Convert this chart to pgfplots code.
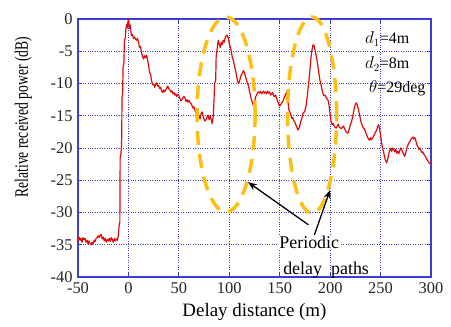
\documentclass[border=0pt]{standalone}
\usepackage{fontspec}
\setmainfont{Liberation Serif}
\usepackage{pgfplots}
\pgfplotsset{compat=1.18}
\usetikzlibrary{arrows.meta}
\definecolor{axblue}{RGB}{60,60,215}
\definecolor{lred}{RGB}{225,10,10}
\definecolor{ellor}{RGB}{255,190,20}
\newcommand{\tl}[1]{\textrm{\fontsize{16.5}{18}\selectfont #1}}
\begin{document}
\begin{tikzpicture}
\begin{axis}[
  name=ax,
  scale only axis, width=353bp, height=258bp,
  xmin=-50, xmax=300, ymin=-40, ymax=0,
  xtick={-50,0,50,100,150,200,250,300},
  xticklabels={\tl{-50},\tl{0},\tl{50},\tl{100},\tl{150},\tl{200},\tl{250},\tl{300}},
  ytick={-40,-35,-30,-25,-20,-15,-10,-5,0},
  yticklabels={\tl{-40},\tl{-35},\tl{-30},\tl{-25},\tl{-20},\tl{-15},\tl{-10},\tl{-5},\tl{0}},
  axis line style={axblue, line width=1.3pt},
  tick style={axblue, line width=1pt},
  major tick length=4bp,
  grid=major,
  grid style={axblue, dotted, line width=0.9pt},
  tick label style={text=black!85},
  xticklabel style={yshift=-2bp},
  yticklabel style={xshift=-2bp},
  xlabel={Delay distance (m)},
  ylabel={\scalebox{0.72}[1]{Relative received power (dB)}},
  every axis x label/.style={at={(axis description cs:0.5,-0.136)}, anchor=center, font=\fontsize{19}{21}\selectfont},
  every axis y label/.style={at={(axis description cs:-0.155,0.62)}, anchor=center, rotate=90, font=\fontsize{19}{21}\selectfont},
  clip=false,
]
\addplot[lred, line width=1.2pt, line join=round] coordinates {
(-50,-34.5) (-49,-33.8) (-48,-34.3) (-47,-34.0) (-46,-34.6) (-45,-33.9) (-44,-34.2) (-43,-34.0) (-42,-34.6) (-41,-34.3) (-40,-34.9) (-39,-34.4) (-38,-34.8) (-37,-35.0) (-36,-34.6) (-35,-34.9) (-34,-34.3) (-33,-34.5) (-32,-34.0) (-31,-33.9) (-30,-33.6) (-29,-33.9) (-28,-33.5) (-27,-33.4) (-26,-34.1) (-25,-33.8) (-24,-34.4) (-23,-34.0) (-22,-34.6) (-21,-34.2) (-20,-34.4) (-19,-34.0) (-18,-34.5) (-17,-33.9) (-16,-34.2) (-15,-34.6) (-14,-34.0) (-13,-34.4) (-12,-34.1) (-11,-34.3) (-10,-33.6) (-9.5,-32.5) (-9,-31.8) (-8.5,-31.5) (-8.2,-21.5) (-7.5,-21) (-7,-19.9) (-6.6,-18) (-6.4,-12.2) (-5.8,-11.8) (-5.3,-7.5) (-4.5,-6.8) (-4,-3.5) (-3,-2.8) (-2.5,-1.5) (-1.5,-0.8) (-1,-1.4) (-0.5,-0.4) (0,0) (0.5,-0.6) (1,-1.5) (1.5,-0.9) (2,-1.2) (3,-2.6) (4,-2.4) (5,-3.0) (6,-2.8) (7,-3.1) (8,-3.3) (9,-3.0) (10,-3.6) (11,-4.4) (12,-4.3) (13,-5.2) (14,-5.8) (15,-6.2) (16,-5.7) (17,-6.0) (18,-5.6) (19,-6.3) (20,-7.2) (21,-8.3) (22,-8.6) (23,-9.6) (24,-10.2) (25,-10.1) (26,-10.6) (27,-10.1) (28,-9.9) (29,-10.4) (30,-10.3) (31,-10.8) (32,-10.6) (33,-11.2) (34,-11.4) (35,-11.0) (36,-11.3) (37,-11.0) (38,-10.7) (39,-10.4) (40,-10.8) (41,-11.0) (42,-11.3) (43,-11.1) (44,-11.6) (45,-11.4) (46,-11.8) (47,-11.6) (48,-12.0) (49,-11.7) (50,-11.9) (51,-12.3) (52,-12.7) (53,-12.5) (54,-12.2) (55,-12.0) (56,-12.2) (57,-12.8) (58,-12.5) (59,-12.9) (60,-12.6) (61,-12.9) (62,-13.1) (63,-13.4) (64,-13.8) (65,-13.6) (66,-14.2) (67,-14.6) (68,-14.8) (69,-15.3) (70,-14.9) (71,-15.5) (72,-14.7) (73,-14.4) (74,-15.0) (75,-15.6) (76,-15.8) (77,-15.6) (78,-15.2) (79,-14.9) (80,-15.6) (81,-15.0) (82,-15.5) (83,-16.2) (84,-15.2) (84.5,-14.0) (85.5,-10.0) (86.5,-9.5) (87,-5.8) (88,-4.6) (89,-3.3) (90,-3.8) (91,-4.4) (92,-3.6) (93,-4.0) (94,-3.3) (95,-3.6) (96,-2.9) (97,-2.6) (98,-2.5) (99,-3.0) (100,-3.8) (101,-4.3) (102,-5.0) (103,-6.0) (104,-6.4) (105,-7.2) (106,-7.9) (107,-8.6) (108,-9.5) (109,-10.0) (110,-9.8) (111,-9.1) (112,-8.6) (113,-8.4) (114,-8.0) (115,-8.3) (116,-8.9) (117,-9.4) (118,-10.0) (119,-10.3) (120,-11.2) (121,-11.8) (122,-12.6) (123,-13.0) (124,-13.5) (125,-12.9) (126,-12.1) (127,-11.8) (128,-11.4) (129,-11.3) (130,-11.5) (131,-11.2) (132,-11.6) (133,-11.4) (134,-11.2) (135,-11.5) (136,-11.3) (137,-11.6) (138,-11.2) (139,-11.5) (140,-11.3) (141,-11.8) (142,-11.6) (143,-11.4) (144,-11.9) (145,-12.0) (146,-11.8) (147,-12.3) (148,-12.8) (149,-13.2) (150,-13.5) (151,-13.3) (152,-13.0) (153,-12.8) (154,-12.4) (155,-12.0) (156,-11.6) (157,-11.3) (158,-12.5) (159,-14.0) (160,-14.4) (161,-14.8) (162,-15.4) (163,-15.3) (164,-15.8) (165,-16.0) (166,-16.4) (167,-16.8) (168,-17.2) (169,-17.0) (170,-16.5) (171,-15.8) (172,-15.4) (173,-14.6) (174,-14.5) (175,-14.2) (176,-13.6) (177,-12.4) (178,-11.0) (179,-9.5) (180,-7.8) (181,-6.0) (182,-4.8) (183,-4.0) (184,-4.1) (185,-4.8) (186,-5.6) (187,-6.4) (188,-7.5) (189,-8.6) (190,-9.6) (191,-10.2) (192,-11.0) (193,-11.6) (194,-11.9) (195,-11.8) (196,-12.2) (197,-12.4) (198,-12.6) (199,-13.5) (200,-14.8) (201,-16.0) (202,-16.4) (203,-16.2) (204,-16.6) (205,-16.8) (206,-16.9) (207,-16.6) (208,-16.3) (209,-16.7) (210,-16.9) (211,-17.0) (212,-16.8) (213,-16.6) (214,-16.9) (215,-17.2) (216,-17.5) (217,-17.7) (218,-17.6) (219,-17.0) (220,-16.4) (221,-16.0) (222,-15.4) (223,-14.6) (224,-13.8) (225,-13.2) (226,-13.0) (227,-13.4) (228,-14.0) (229,-14.8) (230,-15.5) (231,-16.2) (232,-16.6) (233,-16.9) (234,-17.0) (235,-17.5) (236,-17.9) (237,-18.3) (238,-18.6) (239,-18.8) (240,-18.4) (241,-18.7) (242,-18.5) (243,-18.2) (244,-17.9) (245,-17.5) (246,-17.3) (247,-16.7) (248,-16.4) (249,-17.0) (250,-18.0) (251,-19.2) (252,-20.0) (253,-20.6) (254,-21.4) (255,-22.0) (256,-22.3) (257,-21.8) (258,-21.0) (259,-20.4) (260,-20.1) (261,-20.5) (262,-20.0) (263,-20.3) (264,-20.6) (265,-20.2) (266,-20.8) (267,-20.5) (268,-20.9) (269,-20.4) (270,-20.0) (271,-20.3) (272,-20.7) (273,-21.0) (274,-21.3) (275,-20.7) (276,-20.0) (277,-19.6) (278,-19.2) (279,-19.0) (280,-18.7) (281,-18.5) (282,-18.3) (283,-18.6) (284,-18.4) (285,-18.9) (286,-19.5) (287,-19.8) (288,-20.2) (289,-20.0) (290,-20.4) (291,-20.7) (292,-20.6) (293,-21.0) (294,-21.2) (295,-21.5) (296,-21.8) (297,-22.0) (298,-22.3) (299,-22.4) (300,-22.6)
};
\draw[ellor, line width=3.5bp, dash pattern=on 14bp off 9bp] (axis cs:96.8,-14.8) ellipse [x radius=28.8, y radius=15.1];
\draw[ellor, line width=3.5bp, dash pattern=on 14bp off 9bp] (axis cs:182.1,-14.9) ellipse [x radius=24.3, y radius=15.2];
\draw[black, line width=1.3bp, -{Stealth[length=9bp,width=7bp]}] (axis cs:178.4,-31.9) -- (axis cs:118.6,-25.3);
\draw[black, line width=1.3bp, -{Stealth[length=9bp,width=7bp]}] (axis cs:183.2,-34) -- (axis cs:200,-26.5);
\node[font=\fontsize{18}{20}\selectfont, fill=white, inner sep=0.5bp] at (axis cs:179.3,-34.6) {Periodic};
\node[font=\fontsize{18}{20}\selectfont] at (axis cs:196,-38.9) {delay\ \ paths};
\node[font=\fontsize{16}{18}\selectfont] at (axis cs:256.5,-3.1) {$d_1$=4m};
\node[font=\fontsize{16}{18}\selectfont] at (axis cs:256.5,-7.0) {$d_2$=8m};
\node[font=\fontsize{16}{18}\selectfont] at (axis cs:266.5,-10.7) {$\theta$=29deg};
\end{axis}
\path ([xshift=-78bp,yshift=-50bp]ax.south west) rectangle ([xshift=20bp,yshift=19bp]ax.north east);
\end{tikzpicture}
\end{document}
